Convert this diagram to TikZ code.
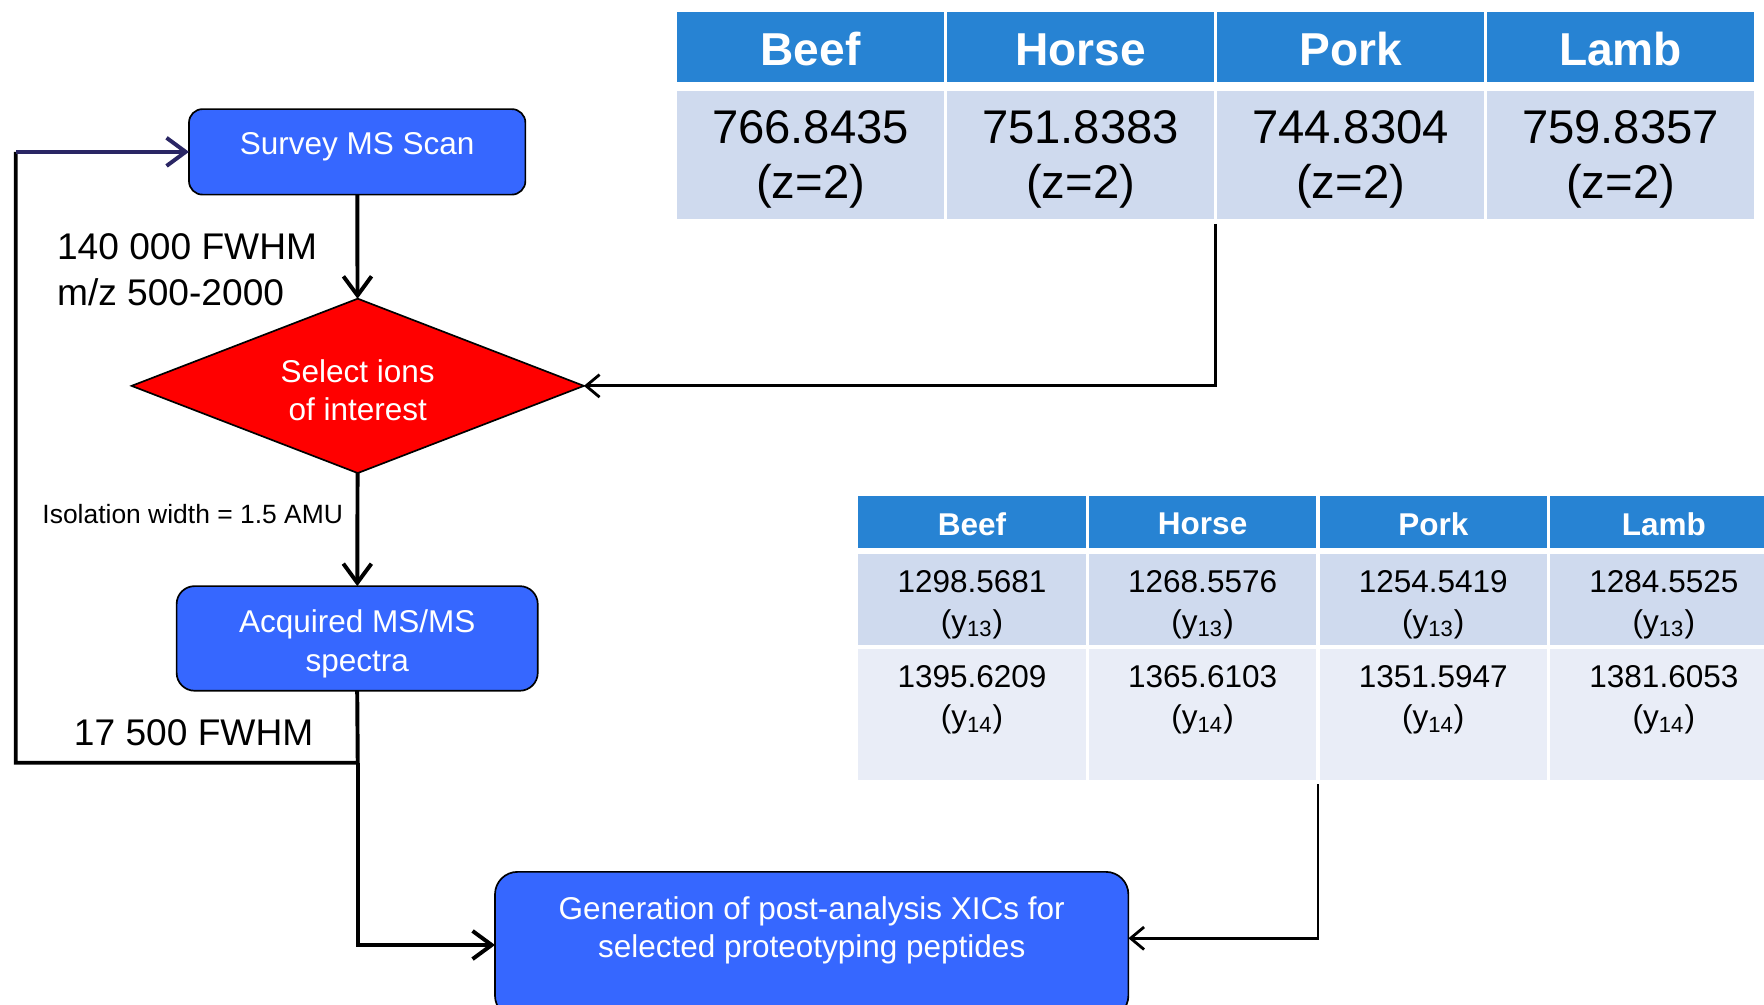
\documentclass[tikz,border=0pt]{standalone}
\usepackage{fontspec}
\setmainfont{Liberation Sans}
\usetikzlibrary{shapes.geometric,arrows.meta}

\definecolor{boxblue}{RGB}{54,103,255}
\definecolor{selred}{RGB}{255,0,0}
\definecolor{hdrblue}{RGB}{39,131,211}
\definecolor{rowA}{RGB}{207,218,238}
\definecolor{rowB}{RGB}{233,237,247}
\definecolor{loopnavy}{RGB}{42,38,100}

\tikzset{every picture/.style={line width=0.75pt}}
\tikzset{
  procbox/.style={draw=black, fill=boxblue, text=white, align=center, inner sep=0pt, outer sep=0pt,
    font=\fontsize{14}{17}\selectfont},
  decision/.style={diamond, aspect=2.6, draw=black, fill=selred, text=white, align=center, inner sep=0pt, outer sep=0pt,
    font=\fontsize{14}{17}\selectfont},
  flowline/.style={line width=1.75pt},
  flowarrow/.style={flowline, -{Straight Barb[length=8.5pt,width=12.5pt]}},
  tabarrow/.style={line width=1.25pt, -{Straight Barb[length=6pt,width=10pt]}},
  note/.style={anchor=west, inner sep=0pt, align=left},
  bighdr/.style={text=white, inner sep=0pt, font=\fontsize{20.5}{24}\selectfont\bfseries},
  bigval/.style={align=center, inner sep=0pt, font=\fontsize{21}{24.5}\selectfont},
  smallhdr/.style={text=white, inner sep=0pt, font=\fontsize{14}{17}\selectfont\bfseries},
  smallval/.style={align=center, inner sep=0pt, font=\fontsize{14}{17.5}\selectfont}
}

\begin{document}
\begin{tikzpicture}[x=0.5pt,y=0.5pt,yscale=-1,xscale=1]
	\useasboundingbox (0,0) rectangle (1568,893);

	%Shape: Rounded Rect [id:survey]
	\node [procbox, rounded corners=6pt, minimum width=149.5pt, minimum height=38pt, text height=10pt, text depth=8pt] (survey) at (317.5,135) {Survey MS Scan};
	%Shape: Diamond [id:select]
	\node [decision, minimum width=201pt, minimum height=77.5pt, text height=34pt, text depth=3pt] (select) at (318,343) {Select ions\\of interest};
	%Shape: Rounded Rect [id:acq]
	\node [procbox, rounded corners=8pt, minimum width=160.5pt, minimum height=46.5pt, text height=32pt, text depth=3pt] (acq) at (317.5,567.5) {Acquired MS/MS\\spectra};
	%Shape: Rounded Rect [id:gen]
	\node [procbox, rounded corners=10pt, minimum width=281.5pt, minimum height=65pt, text height=27pt, text depth=15.5pt] (gen) at (721.5,840) {Generation of post-analysis XICs for\\selected proteotyping peptides};

	%Table: precursor ions
	\foreach \name/\mz [count=\i] in {Beef/766.8435,Horse/751.8383,Pork/744.8304,Lamb/759.8357}{
		\pgfmathsetmacro{\xl}{602+240*(\i-1)}
		\fill [hdrblue] (\xl,11) rectangle ++(237,62);
		\fill [rowA] (\xl,81) rectangle ++(237,114);
		\node [bighdr] (ph\i) at (\xl+118.5,44) {\name};
		\node [bigval] (pv\i) at (\xl+118.5,142) {\mz\\(z=2)};
	}
	%Table: fragment ions
	\foreach \name/\ya/\yb [count=\i] in {Beef/1298.5681/1395.6209,Horse/1268.5576/1365.6103,Pork/1254.5419/1351.5947,Lamb/1284.5525/1381.6053}{
		\pgfmathsetmacro{\xl}{763+205*(\i-1)}
		\fill [hdrblue] (\xl,441) rectangle ++(202,46);
		\fill [rowA] (\xl,492) rectangle ++(202,81);
		\fill [rowB] (\xl,577) rectangle ++(202,116);
		\node [smallhdr] (fh\i) at (\xl+101,466) {\name};
		\node [smallval] (fa\i) at (\xl+101,537.5) {\ya\\(y\textsubscript{13})};
		\node [smallval] (fb\i) at (\xl+101,622) {\yb\\(y\textsubscript{14})};
	}

	%Coordinates
	\coordinate (split) at (318,678);
	\coordinate (loopBL) at (14,678);
	\coordinate (loopTL) at (14,135);
	\coordinate (t1bot) at (1080.5,199);
	\coordinate (t2bot) at (1171.5,697);

	%Straight Lines
	\draw [flowarrow] (survey) -- (select);
	\draw [flowarrow] (select) -- (acq);
	\draw [flowline] (acq.south) -- (split) -- (loopBL) -- (loopTL);
	\draw [flowarrow, loopnavy] (loopTL) -- (survey.west);
	\draw [flowarrow] (split) |- (gen.west);
	\draw [tabarrow] (t1bot) |- (select.east);
	\draw [tabarrow] (t2bot) |- ([yshift=-3pt]gen.east);

	% Text Node
	\node [note, font=\fontsize{16.5}{20.5}\selectfont] (fwhmA) at (50,240) {140 000 FWHM\\m/z 500-2000};
	% Text Node
	\node [note, font=\fontsize{11.75}{14}\selectfont] (iso) at (37,457) {Isolation width = 1.5 AMU};
	% Text Node
	\node [note, font=\fontsize{16.5}{20}\selectfont] (fwhmB) at (65,651) {17 500 FWHM};
\end{tikzpicture}
\end{document}
